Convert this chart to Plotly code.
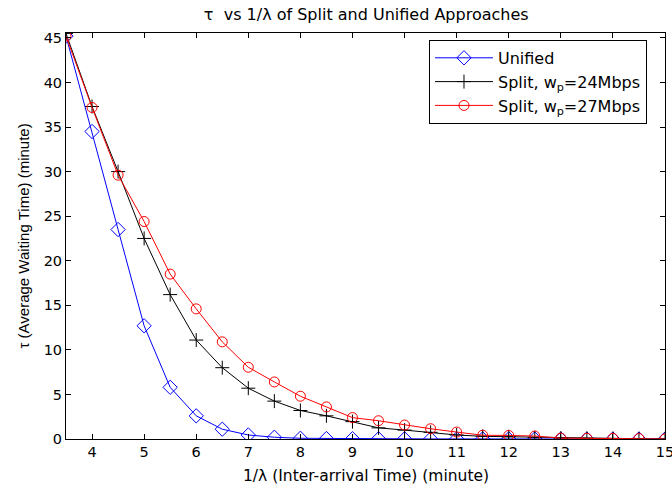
import plotly.graph_objects as go

x_vals = [3.5, 4, 4.5, 5, 5.5, 6, 6.5, 7, 7.5, 8, 8.5, 9, 9.5, 10, 10.5, 11, 11.5, 12, 12.5, 13, 13.5, 14, 14.5, 15]
unified = [45.2, 34.5, 23.5, 12.7, 5.8, 2.6, 1.1, 0.45, 0.2, 0.08, 0.05, 0.03, 0.02, 0.02, 0.01, 0.01, 0.01, 0.01, 0.0, 0.0, 0.0, 0.0, 0.0, 0.0]
split24 = [45.5, 37.3, 30.0, 22.5, 16.2, 11.1, 8.0, 5.7, 4.25, 3.2, 2.6, 1.95, 1.25, 1.0, 0.75, 0.45, 0.3, 0.25, 0.15, 0.1, 0.07, 0.05, 0.03, 0.0]
split27 = [45.2, 37.2, 29.6, 24.4, 18.5, 14.6, 10.9, 8.05, 6.4, 4.8, 3.6, 2.4, 2.05, 1.57, 1.15, 0.78, 0.42, 0.4, 0.33, 0.1, 0.08, 0.07, 0.05, 0.0]
x_ticks = [4, 5, 6, 7, 8, 9, 10, 11, 12, 13, 14, 15]
y_ticks = [0, 5, 10, 15, 20, 25, 30, 35, 40, 45]

WIDE = "DejaVu Sans, Verdana, sans-serif"
ARIAL = "Liberation Sans, Arial, sans-serif"

fig = go.Figure()
fig.add_trace(go.Scatter(
    x=x_vals, y=unified, mode="lines+markers", name="Unified",
    line=dict(color="#0000ff", width=1),
    marker=dict(symbol="diamond-open", size=11, color="#0000ff", line=dict(width=1, color="#0000ff")),
))
fig.add_trace(go.Scatter(
    x=x_vals, y=split24, mode="lines+markers", name="Split, w<sub>p</sub>=24Mbps",
    line=dict(color="#000000", width=1),
    marker=dict(symbol="cross-thin-open", size=10, color="#000000", line=dict(width=1, color="#000000")),
))
fig.add_trace(go.Scatter(
    x=x_vals, y=split27, mode="lines+markers", name="Split, w<sub>p</sub>=27Mbps",
    line=dict(color="#ff0000", width=1),
    marker=dict(symbol="circle-open", size=10, color="#ff0000", line=dict(width=1, color="#ff0000")),
))

axis_common = dict(
    showline=True, linecolor="black", linewidth=1, mirror="ticks",
    ticks="inside", ticklen=5, tickcolor="black", tickwidth=1,
    showgrid=False, zeroline=False,
    tickfont=dict(family=WIDE, size=14.5, color="black"),
    ticklabeloverflow="allow",
)

fig.update_layout(
    width=672, height=489,
    margin=dict(l=66, r=7, t=33, b=50, autoexpand=False),
    paper_bgcolor="white", plot_bgcolor="white",
    font=dict(family=WIDE, color="black"),
    title=dict(text="τ  vs 1/λ of Split and Unified Approaches", x=0.545, xanchor="center",
               y=0.971, yanchor="middle", font=dict(family=WIDE, size=16, color="black")),
    xaxis=dict(range=[3.5, 15], tickvals=x_ticks, ticktext=[str(t) for t in x_ticks],
               **axis_common),
    yaxis=dict(range=[0, 45.55], tickvals=y_ticks, ticktext=[str(t) for t in y_ticks],
               **axis_common),
    legend=dict(x=0.606, y=0.983, xanchor="left", yanchor="top",
                bgcolor="white", bordercolor="black", borderwidth=1,
                font=dict(family=WIDE, size=16, color="black"),
                itemwidth=58, tracegroupgap=0),
    showlegend=True,
    annotations=[
        dict(text="1/λ (Inter-arrival Time) (minute)", xref="paper", yref="paper",
             x=0.5, y=-0.0911, xanchor="center", yanchor="middle", showarrow=False,
             font=dict(family=WIDE, size=15.5, color="black")),
        dict(text="τ (Average Waiting Time) (minute)", xref="paper", yref="paper",
             x=-0.0726, y=0.5, xanchor="center", yanchor="middle", showarrow=False,
             textangle=-90, font=dict(family=ARIAL, size=15, color="black")),
    ],
)

fig.write_html("out.html")
